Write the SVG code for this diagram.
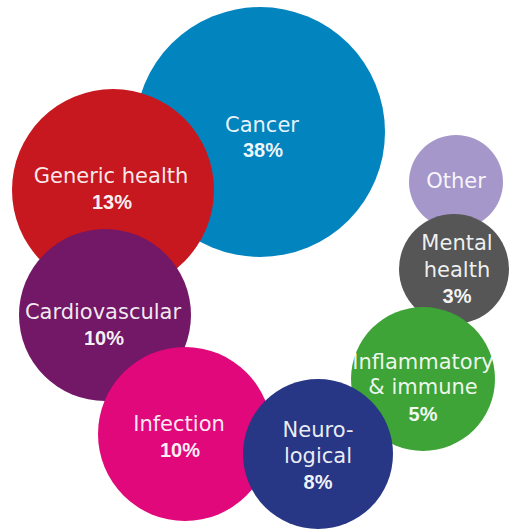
<svg xmlns="http://www.w3.org/2000/svg" width="512" height="529" viewBox="0 0 512 529">
<style>
.lbl{font-family:"DejaVu Sans","Liberation Sans",sans-serif;font-size:21px;fill:#fff;fill-opacity:0.92;text-anchor:middle}
.pct{font-family:"Liberation Sans",Arial,sans-serif;font-size:20px;font-weight:bold;fill:#fff;fill-opacity:0.95;text-anchor:middle}
</style>
<rect width="512" height="529" fill="#fff"/>
<g id="other"><circle cx="456" cy="182" r="47" fill="#A697CB"/><text class="lbl" x="456" y="188">Other</text></g>
<g id="mental"><circle cx="454" cy="269" r="55" fill="#565656"/><text class="lbl" x="457" y="250">Mental</text><text class="lbl" x="457" y="277">health</text><text class="pct" x="457" y="303">3%</text></g>
<g id="inflammatory"><circle cx="423" cy="379" r="72" fill="#3EA437"/><text class="lbl" x="423" y="369">Inflammatory</text><text class="lbl" x="423" y="394">&amp; immune</text><text class="pct" x="423" y="421">5%</text></g>
<g id="cancer"><circle cx="260" cy="132" r="125" fill="#0284BF"/><text class="lbl" x="262" y="132">Cancer</text><text class="pct" x="263" y="157">38%</text></g>
<g id="generic"><circle cx="113" cy="190" r="101" fill="#C8181F"/><text class="lbl" x="111" y="183">Generic health</text><text class="pct" x="112" y="209">13%</text></g>
<g id="cardio"><circle cx="105" cy="315" r="86" fill="#731767"/><text class="lbl" x="103" y="319">Cardiovascular</text><text class="pct" x="104" y="345">10%</text></g>
<g id="infection"><circle cx="185" cy="434" r="87" fill="#E0087A"/><text class="lbl" x="179" y="431">Infection</text><text class="pct" x="180" y="457">10%</text></g>
<g id="neuro"><circle cx="318" cy="454" r="75" fill="#273785"/><text class="lbl" x="318" y="437">Neuro-</text><text class="lbl" x="318" y="463">logical</text><text class="pct" x="318" y="489">8%</text></g>
<g id="connectors"/>
</svg>
